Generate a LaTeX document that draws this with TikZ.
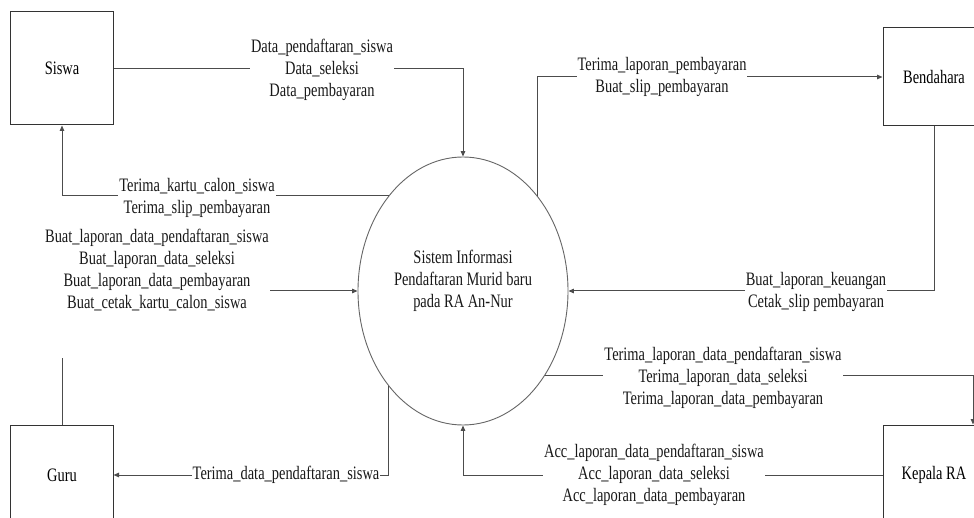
\documentclass[tikz,border=0pt]{standalone}
\usepackage{fontspec}
\setmainfont[FakeStretch=0.76]{Liberation Serif}
\usetikzlibrary{shapes.geometric,arrows.meta}
\begin{document}
\begin{tikzpicture}[x=1bp,y=-1bp,
  ent/.style={draw=black!80,line width=1bp,inner sep=0pt},
  flow/.style={draw=black!70,line width=1bp,-{Triangle[length=5.5bp,width=4.5bp]}},
  lbl/.style={fill=white,inner xsep=1bp,inner ysep=0.5bp,align=center,text=black!90},
  every node/.style={font=\fontsize{19bp}{22bp}\selectfont}]
\path[use as bounding box,clip] (0,0) rectangle (974,518);
\fill[white] (0,0) rectangle (974,518);
% entities
\node[ent,minimum width=102bp,minimum height=113bp] (siswa) at (62,68.5) {Siswa};
\node[ent,minimum width=102bp,minimum height=98bp] (bend) at (934,77) {Bendahara};
\node[ent,minimum width=102bp,minimum height=100bp] (guru) at (62,475) {Guru};
\node[ent,minimum width=102bp,minimum height=100bp] (kep) at (934,475) {Kepala RA};
% process
\node[ellipse,draw=black!60,line width=0.9bp,minimum width=210bp,minimum height=268bp,inner sep=0pt] (sys) at (463,291) {};
\node[align=center,text=black!90] (sysT) at (463,281) {Sistem Informasi\\Pendaftaran Murid baru\\pada RA An-Nur};
% flows
\draw[flow] (siswa.east) -| (sys.north);
\draw[flow] (sys.128.6) -| (siswa.south);
\draw[flow] (guru.north) |- (sys.west);
\draw[flow] (sys.52.1) |- (bend.west);
\draw[flow] (bend.south) |- (sys.east);
\coordinate (kin) at ([xshift=39bp]kep.north);
\draw[flow] (sys.-46.9) -| (kin);
\draw[flow] (kep.west) -| (sys.south);
\draw[flow] (sys.-128.6) |- (guru.east);
% labels
\node[lbl] (l1) at (322,70) {Data\_pendaftaran\_siswa\\Data\_seleksi\\Data\_pembayaran};
\node[lbl] (l2) at (197,198) {Terima\_kartu\_calon\_siswa\\Terima\_slip\_pembayaran};
\fill[white] (30,222) rectangle (268,358);
\node[lbl] (l3) at (157,270) {Buat\_laporan\_data\_pendaftaran\_siswa\\Buat\_laporan\_data\_seleksi\\Buat\_laporan\_data\_pembayaran\\Buat\_cetak\_kartu\_calon\_siswa};
\node[lbl] (l4) at (662,77) {Terima\_laporan\_pembayaran\\Buat\_slip\_pembayaran};
\node[lbl] (l5) at (816,292) {Buat\_laporan\_keuangan\\Cetak\_slip pembayaran};
\node[lbl] (l6) at (723,378) {Terima\_laporan\_data\_pendaftaran\_siswa\\Terima\_laporan\_data\_seleksi\\Terima\_laporan\_data\_pembayaran};
\node[lbl] (l7) at (654,475) {Acc\_laporan\_data\_pendaftaran\_siswa\\Acc\_laporan\_data\_seleksi\\Acc\_laporan\_data\_pembayaran};
\node[lbl,inner xsep=0.3bp] (l8) at (286,475) {Terima\_data\_pendaftaran\_siswa};
\end{tikzpicture}
\end{document}
